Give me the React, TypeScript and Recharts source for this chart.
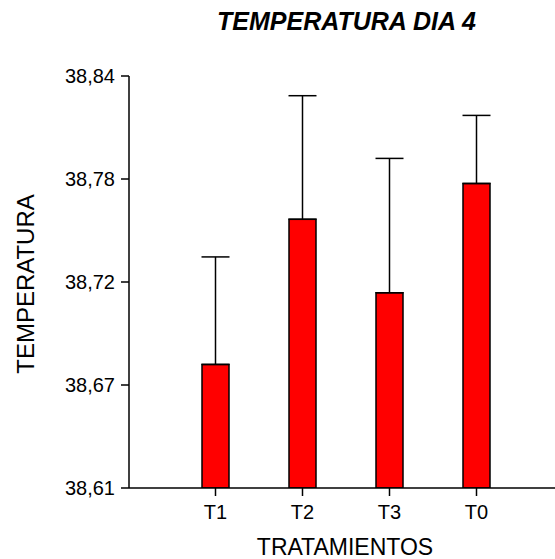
import { BarChart, Bar, XAxis, YAxis, ErrorBar } from "recharts"

const categories = ["T1", "T2", "T3", "T0"]
const means = [38.679, 38.760, 38.719, 38.780]
const errUp = [0.060, 0.069, 0.075, 0.038]
const yTicks = [38.61, 38.6675, 38.725, 38.7825, 38.84]
const yTickLabels = ["38,61", "38,67", "38,72", "38,78", "38,84"]

const data = categories.map((name, i) => ({ name, value: means[i], err: [0, errUp[i]] }))

const font = "'Liberation Sans', Arial, sans-serif"

export default function App() {
  return (
    <div style={{ position: "absolute", left: 0, top: 0, width: 555, height: 559, background: "#fff", fontFamily: font }}>
      <div
        style={{
          position: "absolute",
          top: 9,
          left: 0,
          width: 555,
          textAlign: "center",
          fontSize: 25,
          lineHeight: "25px",
          fontWeight: "bold",
          fontStyle: "italic",
          color: "#000",
          transform: "translateX(69px)",
        }}
      >
        TEMPERATURA DIA 4
      </div>
      <BarChart width={555} height={559} data={data} margin={{ top: 76, right: 0, bottom: 0, left: 0 }}>
        <YAxis
          width={129}
          domain={[38.61, 38.84]}
          allowDataOverflow
          ticks={yTicks}
          tickFormatter={(v: number) => yTickLabels[yTicks.indexOf(v)] ?? String(v)}
          tick={{ fontSize: 20, fill: "#000", fontFamily: font }}
          tickSize={8}
          tickMargin={6}
          stroke="#000"
          strokeWidth={1.5}
          label={{
            content: (props: any) => {
              const vb = props.viewBox
              const cx = 25
              const cy = vb.y + vb.height / 2 + 2
              return (
                <text
                  x={cx}
                  y={cy}
                  transform={`rotate(-90, ${cx}, ${cy})`}
                  textAnchor="middle"
                  dominantBaseline="central"
                  fontSize={24}
                  fill="#000"
                  fontFamily={font}
                >
                  TEMPERATURA
                </text>
              )
            },
          }}
        />
        <XAxis
          dataKey="name"
          height={71}
          padding={{ left: 43, right: 35 }}
          tick={{ fontSize: 20, fill: "#000", fontFamily: font }}
          tickSize={8}
          tickMargin={9}
          stroke="#000"
          strokeWidth={1.5}
          label={{
            content: (props: any) => {
              const vb = props.viewBox
              return (
                <text
                  x={vb.x + vb.width / 2 + 3}
                  y={555}
                  textAnchor="middle"
                  fontSize={23}
                  fill="#000"
                  fontFamily={font}
                >
                  TRATAMIENTOS
                </text>
              )
            },
          }}
        />
        <Bar dataKey="value" fill="#FF0000" stroke="#000" strokeWidth={1.5} barSize={27} isAnimationActive={false}>
          <ErrorBar dataKey="err" direction="y" width={14} stroke="#000" strokeWidth={1.5} isAnimationActive={false} />
        </Bar>
      </BarChart>
    </div>
  )
}
